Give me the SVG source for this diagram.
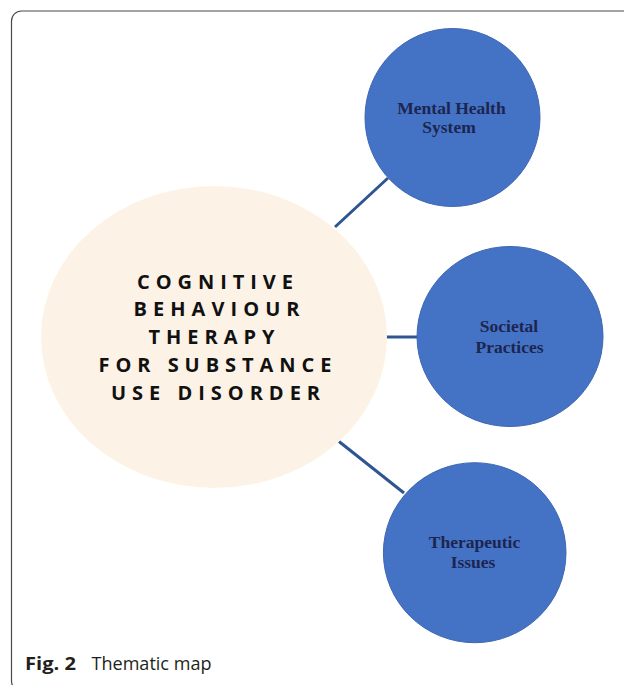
<svg xmlns="http://www.w3.org/2000/svg" width="624" height="685" viewBox="0 0 624 685">
  <style>
    .frame { fill: none; stroke: #4a4a4a; stroke-width: 1.2; }
    .sub { fill: #4472C4; stroke: #3E67B3; stroke-width: 1; }
    .sublabel { font-family: "Liberation Serif", "Times New Roman", serif; font-weight: bold; font-size: 17.5px; fill: #1C2550; text-anchor: middle; }
    .main { fill: #FCF3E6; }
    .mainlabel { font-family: "Open Sans", "DejaVu Sans", sans-serif; font-weight: bold; font-size: 20px; fill: #111111; text-anchor: middle; }
    .conn { stroke: #2E5590; stroke-width: 3; fill: none; }
    .cap { font-family: "Open Sans", "Noto Sans", sans-serif; font-size: 18px; fill: #231F20; }
  </style>
  <rect width="624" height="685" fill="#ffffff"/>
  <rect class="frame" x="11.5" y="11" width="700" height="680" rx="10" ry="10"/>

  <g id="connectors">
    <line class="conn" x1="388" y1="178" x2="335" y2="227"/>
    <line class="conn" x1="386" y1="337" x2="418" y2="337"/>
    <line class="conn" x1="339" y1="441.5" x2="404" y2="493"/>
  </g>

  <g id="node-main">
    <ellipse class="main" cx="214" cy="337" rx="173" ry="151"/>
    <text class="mainlabel" x="215" y="288.5" textLength="156" lengthAdjust="spacing">COGNITIVE</text>
    <text class="mainlabel" x="216.5" y="315.5" textLength="166" lengthAdjust="spacing">BEHAVIOUR</text>
    <text class="mainlabel" x="211.5" y="343.5" textLength="126" lengthAdjust="spacing">THERAPY</text>
    <text class="mainlabel" x="215" y="372" textLength="233" lengthAdjust="spacing">FOR SUBSTANCE</text>
    <text class="mainlabel" x="215.5" y="399.5" textLength="209" lengthAdjust="spacing">USE DISORDER</text>
  </g>

  <g id="node-mental-health">
    <ellipse class="sub" cx="452.5" cy="117.5" rx="87.5" ry="89"/>
    <text class="sublabel" x="451.5" y="113.5">Mental Health</text>
    <text class="sublabel" x="449" y="133">System</text>
  </g>

  <g id="node-societal">
    <ellipse class="sub" cx="510" cy="336.5" rx="93" ry="90"/>
    <text class="sublabel" x="509" y="331.7">Societal</text>
    <text class="sublabel" x="509.5" y="352.7">Practices</text>
  </g>

  <g id="node-therapeutic">
    <ellipse class="sub" cx="474.7" cy="552.7" rx="91.3" ry="90"/>
    <text class="sublabel" x="474.5" y="548.3">Therapeutic</text>
    <text class="sublabel" x="473" y="568.3">Issues</text>
  </g>

  <g id="caption">
    <text class="cap" x="25" y="670"><tspan font-weight="bold" textLength="51" lengthAdjust="spacingAndGlyphs">Fig. 2</tspan><tspan x="91.5" textLength="120" lengthAdjust="spacingAndGlyphs">Thematic map</tspan></text>
  </g>
</svg>
